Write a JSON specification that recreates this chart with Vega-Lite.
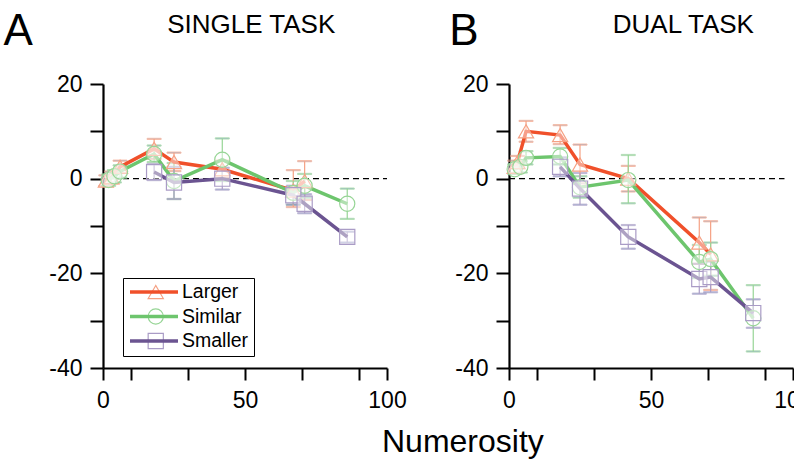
{
  "$schema": "https://vega.github.io/schema/vega-lite/v6.json",
  "background": "white",
  "padding": {"left": 3, "top": 10, "right": 4, "bottom": 2},
  "config": {
    "font": "Liberation Sans",
    "view": {"stroke": null},
    "axis": {"domainColor": "black", "domainWidth": 2.2, "tickColor": "black", "tickWidth": 2, "labelColor": "black", "labelFontSize": 23, "labelFont": "Liberation Sans", "labelOverlap": false, "labelFlush": false, "grid": false, "titleColor": "black", "titleFontWeight": "normal", "titleFont": "Liberation Sans"},
    "title": {"color": "black", "fontWeight": "normal", "font": "Liberation Sans"},
    "legend": {"labelFont": "Liberation Sans", "labelColor": "black"}
  },
  "datasets": {
    "single": [
      {"cond": "Larger", "n": 1, "err": -0.4, "lo": -1.5, "hi": 0.7},
      {"cond": "Larger", "n": 3, "err": 0.3, "lo": -1.0, "hi": 1.5},
      {"cond": "Larger", "n": 6, "err": 2.5, "lo": 1.2, "hi": 3.8},
      {"cond": "Larger", "n": 18, "err": 6.3, "lo": 4.2, "hi": 8.4},
      {"cond": "Larger", "n": 25, "err": 3.5, "lo": 1.6, "hi": 5.5},
      {"cond": "Larger", "n": 42, "err": 2.0, "lo": 0.2, "hi": 3.8},
      {"cond": "Larger", "n": 67, "err": -2.5, "lo": -6.0, "hi": 1.8},
      {"cond": "Larger", "n": 71, "err": -0.5, "lo": -4.5, "hi": 3.7},
      {"cond": "Similar", "n": 2, "err": -0.3, "lo": -1.5, "hi": 0.9},
      {"cond": "Similar", "n": 4, "err": 0.5, "lo": -0.8, "hi": 1.8},
      {"cond": "Similar", "n": 6, "err": 1.5, "lo": 0.2, "hi": 2.8},
      {"cond": "Similar", "n": 18, "err": 5.2, "lo": 3.5, "hi": 7.0},
      {"cond": "Similar", "n": 25, "err": -0.5, "lo": -4.3, "hi": 3.3},
      {"cond": "Similar", "n": 42, "err": 4.0, "lo": -0.5, "hi": 8.5},
      {"cond": "Similar", "n": 67, "err": -3.0, "lo": -5.5, "hi": -0.5},
      {"cond": "Similar", "n": 71, "err": -1.5, "lo": -4.0, "hi": 1.0},
      {"cond": "Similar", "n": 86, "err": -5.3, "lo": -8.5, "hi": -2.1},
      {"cond": "Smaller", "n": 18, "err": 1.4, "lo": -0.3, "hi": 3.0},
      {"cond": "Smaller", "n": 25, "err": -0.8, "lo": -4.3, "hi": 2.5},
      {"cond": "Smaller", "n": 42, "err": 0.0, "lo": -2.3, "hi": 2.3},
      {"cond": "Smaller", "n": 67, "err": -3.5, "lo": -5.5, "hi": -1.5},
      {"cond": "Smaller", "n": 71, "err": -5.3, "lo": -7.3, "hi": -3.3},
      {"cond": "Smaller", "n": 86, "err": -12.3, "lo": -13.5, "hi": -11.2}
    ],
    "dual": [
      {"cond": "Larger", "n": 2, "err": 2.5, "lo": 1.2, "hi": 3.8},
      {"cond": "Larger", "n": 3, "err": 3.5, "lo": 2.2, "hi": 4.8},
      {"cond": "Larger", "n": 6, "err": 10.0, "lo": 7.8, "hi": 12.2},
      {"cond": "Larger", "n": 18, "err": 9.2, "lo": 7.3, "hi": 11.3},
      {"cond": "Larger", "n": 25, "err": 3.0, "lo": -1.0, "hi": 7.2},
      {"cond": "Larger", "n": 42, "err": 0.0, "lo": -2.7, "hi": 2.7},
      {"cond": "Larger", "n": 67, "err": -13.5, "lo": -18.0, "hi": -8.2},
      {"cond": "Larger", "n": 71, "err": -16.0, "lo": -23.5, "hi": -9.0},
      {"cond": "Similar", "n": 2, "err": 2.0, "lo": 1.0, "hi": 3.0},
      {"cond": "Similar", "n": 4, "err": 2.5, "lo": 1.3, "hi": 3.7},
      {"cond": "Similar", "n": 6, "err": 4.4, "lo": 3.0, "hi": 5.8},
      {"cond": "Similar", "n": 18, "err": 4.7, "lo": 3.0, "hi": 6.5},
      {"cond": "Similar", "n": 25, "err": -1.8, "lo": -4.0, "hi": 0.5},
      {"cond": "Similar", "n": 42, "err": -0.3, "lo": -5.2, "hi": 5.0},
      {"cond": "Similar", "n": 67, "err": -17.6, "lo": -21.0, "hi": -14.0},
      {"cond": "Similar", "n": 71, "err": -17.0, "lo": -20.5, "hi": -13.5},
      {"cond": "Similar", "n": 86, "err": -29.5, "lo": -36.5, "hi": -22.5},
      {"cond": "Smaller", "n": 18, "err": 2.5, "lo": 0.5, "hi": 4.5},
      {"cond": "Smaller", "n": 25, "err": -2.1, "lo": -5.5, "hi": 1.2},
      {"cond": "Smaller", "n": 42, "err": -12.3, "lo": -14.8, "hi": -9.8},
      {"cond": "Smaller", "n": 67, "err": -21.2, "lo": -24.3, "hi": -18.0},
      {"cond": "Smaller", "n": 71, "err": -20.8, "lo": -24.0, "hi": -17.5},
      {"cond": "Smaller", "n": 86, "err": -28.4, "lo": -31.5, "hi": -25.5}
    ]
  },
  "title": {"text": "Numerosity", "orient": "bottom", "anchor": "middle", "fontSize": 32, "dx": 55, "offset": 15},
  "spacing": 42,
  "resolve": {"scale": {"color": "independent", "stroke": "independent", "shape": "independent"}},
  "hconcat": [
    {
      "width": 284,
      "height": 284,
      "data": {"name": "single"},
      "layer": [
        {
          "data": {"values": [{}]},
          "mark": {"type": "rule", "strokeDash": [6, 4], "strokeWidth": 1.3, "color": "black"},
          "encoding": {
            "x": {"datum": 0, "type": "quantitative"},
            "x2": {"datum": 100},
            "y": {"datum": 0, "type": "quantitative"}
          }
        },
        {
          "data": {"values": [{"label": "A"}]},
          "mark": {"type": "text", "fontSize": 44, "align": "left", "baseline": "alphabetic", "color": "black", "font": "Liberation Sans"},
          "encoding": {
            "text": {"field": "label"},
            "x": {"datum": -35, "type": "quantitative"},
            "y": {"datum": 28.2, "type": "quantitative"}
          }
        },
        {
          "data": {"values": [{"label": "SINGLE TASK"}]},
          "mark": {"type": "text", "fontSize": 26, "align": "center", "baseline": "alphabetic", "color": "black", "font": "Liberation Sans"},
          "encoding": {
            "text": {"field": "label"},
            "x": {"datum": 52.2, "type": "quantitative"},
            "y": {"datum": 30.7, "type": "quantitative"}
          }
        },
        {
          "mark": {"type": "errorbar", "ticks": {"size": 14}, "thickness": 1.2},
          "encoding": {
            "x": {"field": "n", "type": "quantitative", "title": null},
            "y": {"field": "lo", "type": "quantitative", "title": null},
            "y2": {"field": "hi"},
            "stroke": {"field": "cond", "type": "nominal", "scale": {"domain": ["Larger", "Similar", "Smaller"], "range": ["#F5A184", "#97D596", "#AA9CC6"]}, "legend": {"orient": "none", "legendX": 20, "legendY": 194, "title": null, "symbolOffset": 18, "labelExpr": "''", "clipHeight": 18, "rowPadding": 4.5, "padding": 5, "labelFontSize": 19.5, "labelOffset": 2, "symbolSize": 230, "symbolStrokeWidth": 1.2, "encode": {"symbols": {"update": {"fill": {"value": "white"}, "fillOpacity": {"value": 0.5}}}}}}
          }
        },
        {
          "mark": {"type": "line", "strokeWidth": 3.5},
          "encoding": {
            "x": {"field": "n", "type": "quantitative", "scale": {"domain": [0, 100]}, "axis": {"orient": "bottom", "title": null, "values": [0, 0, 10, 20, 30, 40, 50, 60, 70, 80, 90, 100, 100], "labelExpr": "datum.value % 50 === 0 ? '' + datum.value : ''", "labelOverlap": false, "labelFlush": false, "tickSize": 12, "labelPadding": 9, "encode": {"ticks": {"update": {"y2": {"signal": "datum.value % 50 === 0 ? 12 : 6"}}}}}},
            "y": {"field": "err", "type": "quantitative", "scale": {"domain": [-40, 20]}, "axis": {"orient": "left", "title": "Error", "titleFontSize": 33, "titlePadding": 6, "values": [-40, -30, -20, -10, 0, 10, 20], "labelExpr": "datum.value % 20 === 0 ? '' + datum.value : ''", "labelOverlap": false, "tickSize": 13, "labelPadding": 8, "encode": {"ticks": {"update": {"x2": {"signal": "datum.value % 20 === 0 ? -13 : -6"}}}}}},
            "color": {"field": "cond", "type": "nominal", "scale": {"range": ["#F0502A", "#6DC56D", "#6B5491"]}, "legend": {"orient": "none", "legendX": 20, "legendY": 194, "title": null, "symbolType": "stroke", "symbolSize": 2304, "symbolStrokeWidth": 3.5, "clipHeight": 18, "rowPadding": 4.5, "padding": 5, "labelFontSize": 19.5, "labelOffset": 2, "strokeColor": "black"}}
          }
        },
        {
          "mark": {"type": "point", "filled": false, "size": 230, "strokeWidth": 1.2, "fill": "white", "fillOpacity": 0.45},
          "encoding": {
            "x": {"field": "n", "type": "quantitative", "title": null},
            "y": {"field": "err", "type": "quantitative", "title": null},
            "stroke": {"field": "cond", "type": "nominal", "scale": {"domain": ["Larger", "Similar", "Smaller"], "range": ["#F5A184", "#97D596", "#AA9CC6"]}, "legend": {"orient": "none", "legendX": 20, "legendY": 194, "title": null, "symbolOffset": 18, "labelExpr": "''", "clipHeight": 18, "rowPadding": 4.5, "padding": 5, "labelFontSize": 19.5, "labelOffset": 2, "symbolSize": 230, "symbolStrokeWidth": 1.2, "encode": {"symbols": {"update": {"fill": {"value": "white"}, "fillOpacity": {"value": 0.5}}}}}},
            "shape": {"field": "cond", "type": "nominal", "scale": {"domain": ["Larger", "Similar", "Smaller"], "range": ["triangle-up", "circle", "square"]}, "legend": {"orient": "none", "legendX": 20, "legendY": 194, "title": null, "symbolOffset": 18, "labelExpr": "''", "clipHeight": 18, "rowPadding": 4.5, "padding": 5, "labelFontSize": 19.5, "labelOffset": 2, "symbolSize": 230, "symbolStrokeWidth": 1.2, "encode": {"symbols": {"update": {"fill": {"value": "white"}, "fillOpacity": {"value": 0.5}}}}}}
          }
        }
      ]
    },
    {
      "width": 284,
      "height": 284,
      "data": {"name": "dual"},
      "layer": [
        {
          "data": {"values": [{}]},
          "mark": {"type": "rule", "strokeDash": [6, 4], "strokeWidth": 1.3, "color": "black"},
          "encoding": {
            "x": {"datum": 0, "type": "quantitative"},
            "x2": {"datum": 97},
            "y": {"datum": 0, "type": "quantitative"}
          }
        },
        {
          "data": {"values": [{"label": "B"}]},
          "mark": {"type": "text", "fontSize": 44, "align": "left", "baseline": "alphabetic", "color": "black", "font": "Liberation Sans"},
          "encoding": {
            "text": {"field": "label"},
            "x": {"datum": -21, "type": "quantitative"},
            "y": {"datum": 28.2, "type": "quantitative"}
          }
        },
        {
          "data": {"values": [{"label": "DUAL TASK"}]},
          "mark": {"type": "text", "fontSize": 26, "align": "center", "baseline": "alphabetic", "color": "black", "font": "Liberation Sans"},
          "encoding": {
            "text": {"field": "label"},
            "x": {"datum": 61.4, "type": "quantitative"},
            "y": {"datum": 30.7, "type": "quantitative"}
          }
        },
        {
          "mark": {"type": "errorbar", "ticks": {"size": 14}, "thickness": 1.2},
          "encoding": {
            "x": {"field": "n", "type": "quantitative", "title": null},
            "y": {"field": "lo", "type": "quantitative", "title": null},
            "y2": {"field": "hi"},
            "stroke": {"field": "cond", "type": "nominal", "scale": {"domain": ["Larger", "Similar", "Smaller"], "range": ["#F5A184", "#97D596", "#AA9CC6"]}, "legend": null}
          }
        },
        {
          "mark": {"type": "line", "strokeWidth": 3.5},
          "encoding": {
            "x": {"field": "n", "type": "quantitative", "scale": {"domain": [0, 100]}, "axis": {"orient": "bottom", "title": null, "values": [0, 0, 10, 20, 30, 40, 50, 60, 70, 80, 90, 100, 100], "labelExpr": "datum.value % 50 === 0 ? '' + datum.value : ''", "labelOverlap": false, "labelFlush": false, "tickSize": 12, "labelPadding": 9, "encode": {"ticks": {"update": {"y2": {"signal": "datum.value % 50 === 0 ? 12 : 6"}}}}}},
            "y": {"field": "err", "type": "quantitative", "scale": {"domain": [-40, 20]}, "axis": {"orient": "left", "title": null, "values": [-40, -30, -20, -10, 0, 10, 20], "labelExpr": "datum.value % 20 === 0 ? '' + datum.value : ''", "labelOverlap": false, "tickSize": 13, "labelPadding": 8, "encode": {"ticks": {"update": {"x2": {"signal": "datum.value % 20 === 0 ? -13 : -6"}}}}}},
            "color": {"field": "cond", "type": "nominal", "scale": {"range": ["#F0502A", "#6DC56D", "#6B5491"]}, "legend": null}
          }
        },
        {
          "mark": {"type": "point", "filled": false, "size": 230, "strokeWidth": 1.2, "fill": "white", "fillOpacity": 0.45},
          "encoding": {
            "x": {"field": "n", "type": "quantitative", "title": null},
            "y": {"field": "err", "type": "quantitative", "title": null},
            "stroke": {"field": "cond", "type": "nominal", "scale": {"domain": ["Larger", "Similar", "Smaller"], "range": ["#F5A184", "#97D596", "#AA9CC6"]}, "legend": null},
            "shape": {"field": "cond", "type": "nominal", "scale": {"domain": ["Larger", "Similar", "Smaller"], "range": ["triangle-up", "circle", "square"]}, "legend": null}
          }
        }
      ]
    }
  ]
}
